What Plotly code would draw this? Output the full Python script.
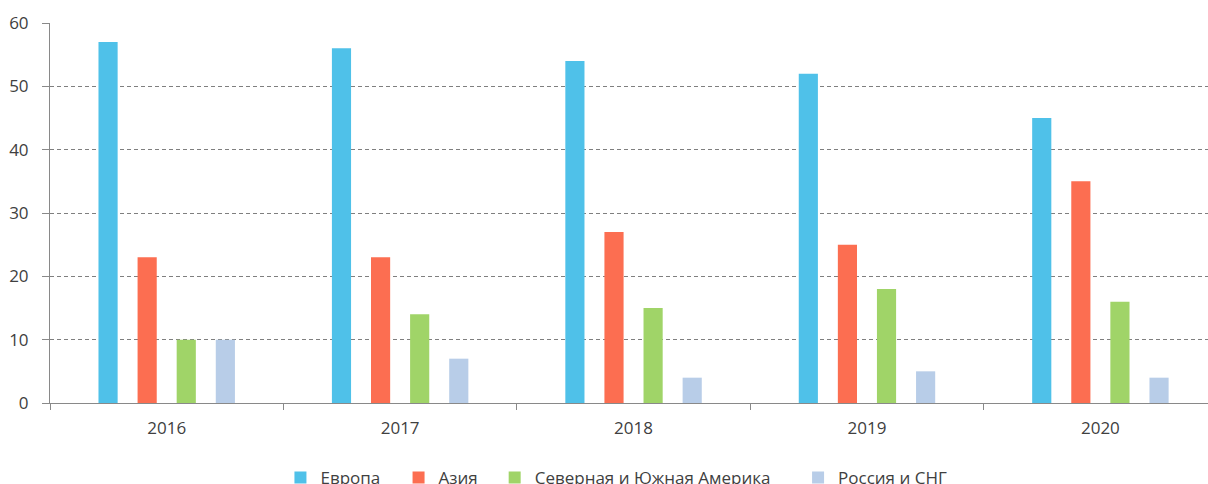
import plotly.graph_objects as go

years = ["2016", "2017", "2018", "2019", "2020"]
europe = [57, 56, 54, 52, 45]
asia = [23, 23, 27, 25, 35]
america = [10, 14, 15, 18, 16]
russia = [10, 7, 4, 5, 4]

series_names = ["Европа", "Азия", "Северная и Южная Америка", "Россия и СНГ"]
series_values = [europe, asia, america, russia]
colors = ["#4FC1E9", "#FC6E51", "#A0D468", "#B8CDE8"]
legend_ids = ["legend", "legend2", "legend3", "legend4"]
legend_x = [0.199, 0.301, 0.384, 0.646]

fig = go.Figure()
for name, vals, col, lid in zip(series_names, series_values, colors, legend_ids):
    fig.add_trace(go.Bar(x=years, y=vals, name=name, legend=lid,
                         marker=dict(color=col, line=dict(width=0))))

font = "Open Sans, Lato, sans-serif"
legend_common = dict(orientation="h", xanchor="left", y=-0.197, yanchor="middle",
                     font=dict(size=17, color="#404040"), itemwidth=30,
                     bgcolor="rgba(0,0,0,0)", borderwidth=0)
legends = {lid: dict(legend_common, x=lx) for lid, lx in zip(legend_ids, legend_x)}

fig.update_layout(
    width=1208, height=484,
    margin=dict(l=50, r=0, t=23, b=81, autoexpand=False),
    paper_bgcolor="white", plot_bgcolor="white",
    barmode="group", bargap=0.33, bargroupgap=0.51,
    font=dict(family=font, size=17, color="#404040"),
    showlegend=True,
    **legends,
    xaxis=dict(type="category", range=[-0.5, 4.461], showgrid=False,
               showline=True, linecolor="#898989", linewidth=1,
               ticks="outside", tickson="boundaries", ticklen=6, tickcolor="#898989",
               ticklabelstandoff=10, tickfont=dict(size=17, color="#404040")),
    yaxis=dict(range=[0, 60], dtick=10, showgrid=True, gridcolor="#7F7F7F", gridwidth=1,
               griddash="4px,3px", zeroline=False,
               showline=True, linecolor="#898989", linewidth=1,
               ticks="outside", ticklen=7, tickcolor="#898989",
               ticklabelstandoff=10, tickfont=dict(size=17, color="#404040")),
)

fig.write_html("out.html", config={"displayModeBar": False},
               post_script="document.body.style.margin='0px';document.body.style.overflow='hidden';")
